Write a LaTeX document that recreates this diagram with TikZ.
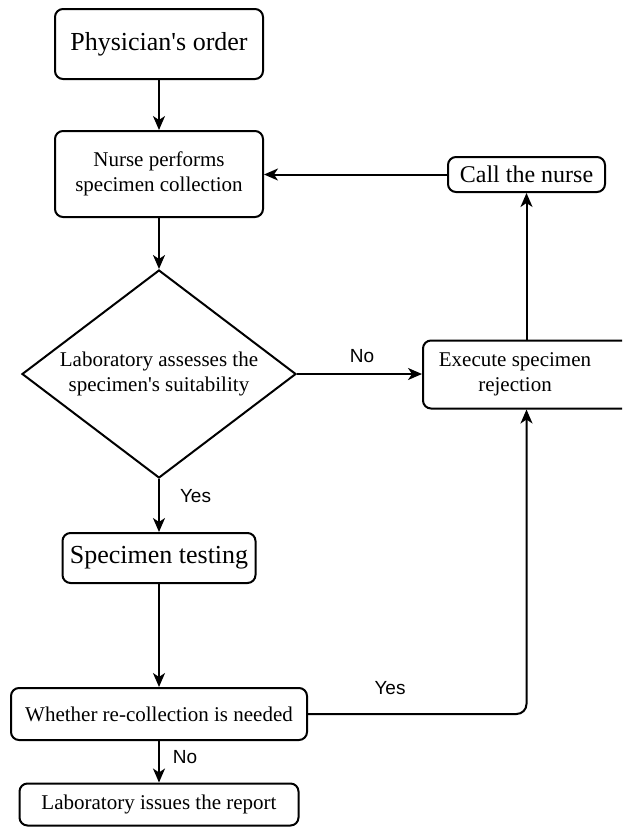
\documentclass[tikz,border=0pt]{standalone}
\usepackage{fontspec}
\setmainfont[Ligatures=TeXOff]{Liberation Serif}
\newfontfamily\labfont{Liberation Sans}
\usetikzlibrary{shapes.geometric,arrows.meta}
\newcommand{\fbig}{\fontsize{26}{30}\selectfont}
\newcommand{\fmid}{\fontsize{24}{28}\selectfont}
\newcommand{\fnorm}{\fontsize{21}{25}\selectfont}
\begin{document}
\begin{tikzpicture}[x=1pt,y=-1pt,
  box/.style={draw, line width=2pt, rounded corners=8pt, align=center, inner sep=0pt},
  arr/.style={draw, line width=2pt, -{Stealth[length=14pt,width=12pt,inset=4pt]}},
  lab/.style={font=\labfont\fontsize{19}{22}\selectfont, inner sep=0pt}]
\useasboundingbox (0,0) rectangle (622,827);
\clip (0,0) rectangle (622,827);
\fill[white] (0,0) rectangle (622,827);

\node[box, minimum width=208pt, minimum height=70pt, font=\fbig] (phys) at (159,44) {Physician's order};
\node[box, minimum width=208pt, minimum height=86pt, font=\fnorm] (nurse) at (159,174) {Nurse performs\\specimen collection};
\node[draw, diamond, line width=2pt, minimum width=274pt, minimum height=208pt, inner sep=0pt, aspect=1.317, align=center, font=\fnorm] (chk) at (159,374) {Laboratory assesses the\\specimen's suitability};
\node[box, minimum width=157pt, minimum height=35pt, font=\fmid] (call) at (526.5,174.5) {Call the nurse};
\node[box, minimum width=216pt, minimum height=68pt, anchor=west,
  label={[xshift=-16pt, align=center, font=\fnorm]center:Execute specimen\\rejection}] (rej) at (422,374.5) {};
\node[box, minimum width=193pt, minimum height=50pt, font=\fbig] (test) at (159,558) {Specimen testing};
\node[box, minimum width=296pt, minimum height=52pt, font=\fnorm] (who) at (159,714) {Whether re-collection is needed};
\node[box, minimum width=279pt, minimum height=42pt, font=\fnorm] (iss) at (159,804.5) {Laboratory issues the report};

\node[lab] (lno1) at (362,356) {No};
\node[lab] (lyes1) at (195.5,496) {Yes};
\node[lab] (lyes2) at (390,688) {Yes};
\node[lab] (lno2) at (185,757) {No};

\draw[arr] (phys) -- (nurse);
\draw[arr] (nurse) -- (chk);
\draw[arr] (chk) -- (test);
\draw[arr] (test) -- (who);
\draw[arr] (who) -- (iss);
\draw[arr] (call.west) -- (call.west -| nurse.east);
\draw[arr] (chk.east) -- (chk.east -| rej.west);
\draw[arr] (call.south |- rej.north) -- (call.south);
\draw[arr, rounded corners=10pt] (who.east) -| (call.south |- rej.south);
\end{tikzpicture}
\end{document}
